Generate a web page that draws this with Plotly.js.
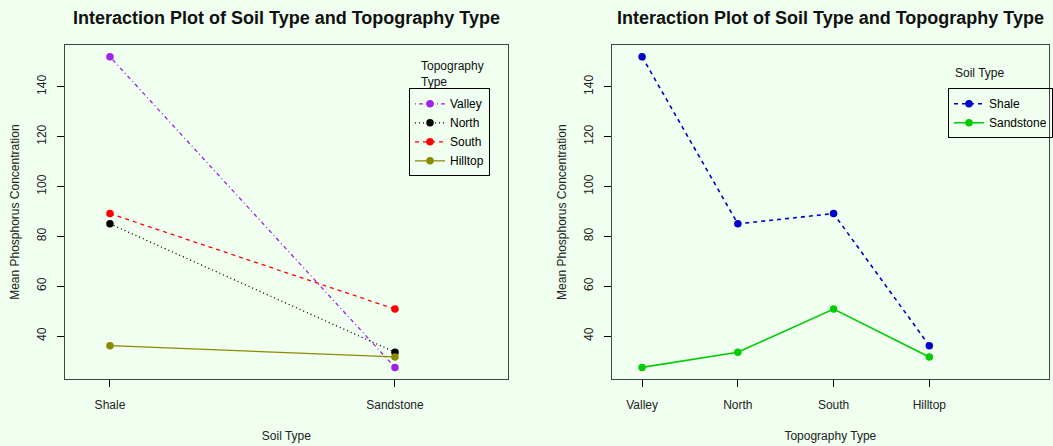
<!DOCTYPE html>
<html>
<head>
<meta charset="utf-8">
<script src="https://cdn.plot.ly/plotly-3.0.1.min.js"></script>
<style>
  html, body { margin: 0; padding: 0; background: #F0FFF0; }
  #chart { width: 1053px; height: 446px; }
</style>
</head>
<body>
<div id="chart"></div>
<script>
// Mean phosphorus concentration by soil type and topography
const soilTypes = ['Shale', 'Sandstone'];
const topoTypes = ['Valley', 'North', 'South', 'Hilltop'];
const shaleMeans = [152.0, 85.0, 89.1, 36.1];
const sandstoneMeans = [27.4, 33.5, 50.8, 31.6];

const topoColors = ['#A020F0', '#000000', '#FF0000', '#8B8B00'];
const topoDash = ['1px,3px,4px,3px', '1px,3px', '4px,4px', 'solid'];
const soilColors = ['#0000CD', '#00CD00'];
const soilDash = ['4px,4px', 'solid'];

const FONT = 'Liberation Sans, Arial, Helvetica, sans-serif';
const BG = '#F0FFF0';

const traces = [];

// Left panel: one line per topography type across soil types
topoTypes.forEach((t, i) => {
  traces.push({
    type: 'scatter', mode: 'lines+markers',
    x: soilTypes,
    y: [shaleMeans[i], sandstoneMeans[i]],
    name: t,
    xaxis: 'x', yaxis: 'y',
    line: { color: topoColors[i], width: 1.3, dash: topoDash[i] },
    marker: { color: topoColors[i], size: 7.5 },
    legend: 'legend'
  });
});

// Right panel: one line per soil type across topography types
[shaleMeans, sandstoneMeans].forEach((vals, i) => {
  traces.push({
    type: 'scatter', mode: 'lines+markers',
    x: topoTypes,
    y: vals,
    name: soilTypes[i],
    xaxis: 'x2', yaxis: 'y2',
    line: { color: soilColors[i], width: 1.6, dash: soilDash[i] },
    marker: { color: soilColors[i], size: 7.5 },
    legend: 'legend2'
  });
});

const W = 1053, H = 446;
const px = v => v / W;
const py = v => 1 - v / H;

const yRange = [22.63, 156.73];
const yTicks = [40, 60, 80, 100, 120, 140];

function yAxis(anchor) {
  return {
    anchor: anchor,
    domain: [py(379.3), py(45)],
    range: yRange,
    tickvals: yTicks,
    ticktext: yTicks.map(String),
    tickangle: -90,
    ticks: 'outside', ticklen: 7, tickwidth: 1, tickcolor: '#000',
    showgrid: false, zeroline: false,
    showline: true, mirror: true, linecolor: '#444', linewidth: 1,
    tickfont: { family: FONT, size: 12, color: '#222' },
    ticklabelstandoff: 6,
    title: { text: 'Mean Phosphorus Concentration', font: { family: FONT, size: 12, color: '#222' }, standoff: 12 }
  };
}

function xAxis(anchor, dom, rng, title) {
  return {
    anchor: anchor,
    domain: dom,
    type: 'category',
    range: rng,
    ticks: 'outside', ticklen: 7, tickwidth: 1, tickcolor: '#000',
    showgrid: false, zeroline: false,
    showline: true, mirror: true, linecolor: '#444', linewidth: 1,
    tickfont: { family: FONT, size: 12, color: '#222' },
    ticklabelstandoff: 7,
    title: { text: title, font: { family: FONT, size: 12, color: '#222' }, standoff: 20 }
  };
}

const layout = {
  width: W, height: H,
  margin: { l: 0, r: 0, t: 0, b: 0 },
  paper_bgcolor: BG, plot_bgcolor: BG,
  font: { family: FONT, size: 12, color: '#222' },
  xaxis: xAxis('y', [px(65), px(508.3)], [-0.158, 1.396], 'Soil Type'),
  yaxis: yAxis('x'),
  xaxis2: xAxis('y2', [px(612.3), px(1050)], [-0.317, 4.25], 'Topography Type'),
  yaxis2: yAxis('x2'),
  legend: {
    x: px(409), y: py(88.3), xanchor: 'left', yanchor: 'top',
    bgcolor: 'rgba(0,0,0,0)', bordercolor: '#000', borderwidth: 1,
    font: { family: FONT, size: 12, color: '#000' },
    itemwidth: 30, tracegroupgap: 0
  },
  legend2: {
    x: px(949), y: py(88.3), xanchor: 'left', yanchor: 'top',
    bgcolor: 'rgba(0,0,0,0)', bordercolor: '#000', borderwidth: 1,
    font: { family: FONT, size: 12, color: '#000' },
    itemwidth: 30, tracegroupgap: 0
  },
  annotations: [
    { text: '<b>Interaction Plot of Soil Type and Topography Type</b>', xref: 'paper', yref: 'paper',
      x: px(286.6), y: py(18), xanchor: 'center', yanchor: 'middle', showarrow: false,
      font: { family: FONT, size: 18, color: '#111' } },
    { text: '<b>Interaction Plot of Soil Type and Topography Type</b>', xref: 'paper', yref: 'paper',
      x: px(831), y: py(18), xanchor: 'center', yanchor: 'middle', showarrow: false,
      font: { family: FONT, size: 18, color: '#111' } },
    { text: 'Topography<br>Type', xref: 'paper', yref: 'paper', align: 'left',
      x: px(419), y: py(56.5), xanchor: 'left', yanchor: 'top', showarrow: false,
      font: { family: FONT, size: 12, color: '#111' } },
    { text: 'Soil Type', xref: 'paper', yref: 'paper', align: 'left',
      x: px(954), y: py(63.5), xanchor: 'left', yanchor: 'top', showarrow: false,
      font: { family: FONT, size: 12, color: '#111' } }
  ]
};

Plotly.newPlot('chart', traces, layout, { displayModeBar: false, staticPlot: true });
</script>
</body>
</html>
